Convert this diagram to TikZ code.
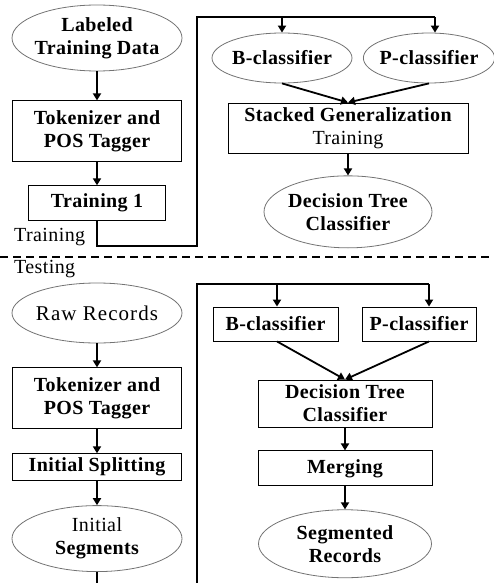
\documentclass[tikz,border=0pt]{standalone}
\usepackage{fontspec}
\setmainfont[LetterSpace=2]{Liberation Serif}
\newfontfamily\widefont[LetterSpace=5]{Liberation Serif}
\usetikzlibrary{arrows.meta,positioning,shapes.geometric}

\begin{document}
\begin{tikzpicture}[
  x=1pt, y=-1pt,
  every node/.style={font=\fontsize{20}{23}\selectfont\bfseries, align=center, inner sep=0pt},
  box/.style={draw=black, line width=0.9pt, minimum width=169pt, minimum height=61pt},
  oval/.style={ellipse, draw=black!55, line width=0.8pt, inner sep=-3pt},
  arrow/.style={-{Triangle[length=7pt,width=8pt]}, line width=1.8pt},
  link/.style={line width=2.6pt},
  plain/.style={font=\fontsize{20}{23}\selectfont},
  split line/.style={line width=1.8pt, dash pattern=on 8pt off 5pt}
]
  \useasboundingbox (0,0) rectangle (494,583);
  \clip (0,0) rectangle (494,583);

  % Training
  \node (labdata) [oval, minimum width=170pt, minimum height=66pt] at (97,38) {Labeled\\Training Data};
  \node (tok1) [box, below=29pt of labdata] {Tokenizer and\\POS Tagger};
  \node (train1) [box, minimum width=137pt, minimum height=35pt, below=23pt of tok1] {Training 1};
  \node (bcls1) [oval, minimum width=140pt, minimum height=50pt] at (282,58) {B-classifier};
  \node (pcls1) [oval, minimum width=128pt, minimum height=50pt] at (429,58) {P-classifier};
  \node (stack) [box, minimum width=240pt, minimum height=50pt] at (348,128) {Stacked Generalization\\{\mdseries Training}};
  \node (dtree1) [oval, minimum width=168pt, minimum height=72pt, below=22pt of stack] {Decision Tree\\Classifier};
  \node (trlabel) [plain, anchor=west] at (14,237) {Training};

  % Testing
  \node (tslabel) [plain, anchor=west] at (14,269) {Testing};
  \node (raw) [oval, font=\widefont\fontsize{21}{23}\selectfont, minimum width=170pt, minimum height=60pt] at (97,313) {Raw Records};
  \node (tok2) [box, below=24pt of raw] {Tokenizer and\\POS Tagger};
  \node (split) [box, minimum height=27pt, below=24pt of tok2] {Initial Splitting};
  \node (inseg) [oval, minimum width=170pt, minimum height=66pt, below=24pt of split] {{\mdseries Initial}\\Segments};
  \node (bcls2) [box, minimum width=125pt, minimum height=34pt] at (275.5,324) {B-classifier};
  \node (pcls2) [box, minimum width=114pt, minimum height=34pt] at (419,324) {P-classifier};
  \node (dtree2) [box, minimum width=174pt, minimum height=47pt] at (345,403.5) {Decision Tree\\Classifier};
  \node (merge) [box, minimum width=174pt, minimum height=35pt, below=23pt of dtree2] {Merging};
  \node (segrec) [oval, minimum width=173pt, minimum height=68pt, below=23pt of merge] {Segmented\\Records};

  % Corners of the long links
  \coordinate (bot1) at (197,246);
  \coordinate (top1) at (197,17);
  \coordinate (bin1) at (282,17);
  \coordinate (pin1) at (435,17);
  \coordinate (bot2) at (197,610);
  \coordinate (top2) at (197,284);
  \coordinate (bin2) at (277,284);
  \coordinate (pin2) at (429,284);
  \coordinate (dl) at (0,257);
  \coordinate (dr) at (494,257);

  % Paths
  \draw [arrow] (labdata) -- (tok1);
  \draw [arrow] (tok1) -- (train1);
  \draw [link] (train1.south) |- (bot1) -- (top1) -- (pin1);
  \draw [arrow] (bin1) -- (bcls1.north);
  \draw [arrow] (pin1) -- (pin1 |- pcls1.north);
  \draw [arrow] (bcls1.south) -- (stack.north);
  \draw [arrow] (pcls1.south) -- (stack.north);
  \draw [arrow] (stack) -- (dtree1);

  \draw [split line] (dl) -- (dr);

  \draw [arrow] (raw) -- (tok2);
  \draw [arrow] (tok2) -- (split);
  \draw [arrow] (split) -- (inseg);
  \draw [link] (inseg.south) |- (bot2) -- (top2) -- (pin2);
  \draw [arrow] (bin2) -- (bin2 |- bcls2.north);
  \draw [arrow] (pin2) -- (pin2 |- pcls2.north);
  \draw [arrow] (bcls2.south -| bin2) -- (dtree2.north);
  \draw [arrow] (pcls2.south -| pin2) -- (dtree2.north);
  \draw [arrow] (dtree2) -- (merge);
  \draw [arrow] (merge) -- (segrec);
\end{tikzpicture}
\end{document}
